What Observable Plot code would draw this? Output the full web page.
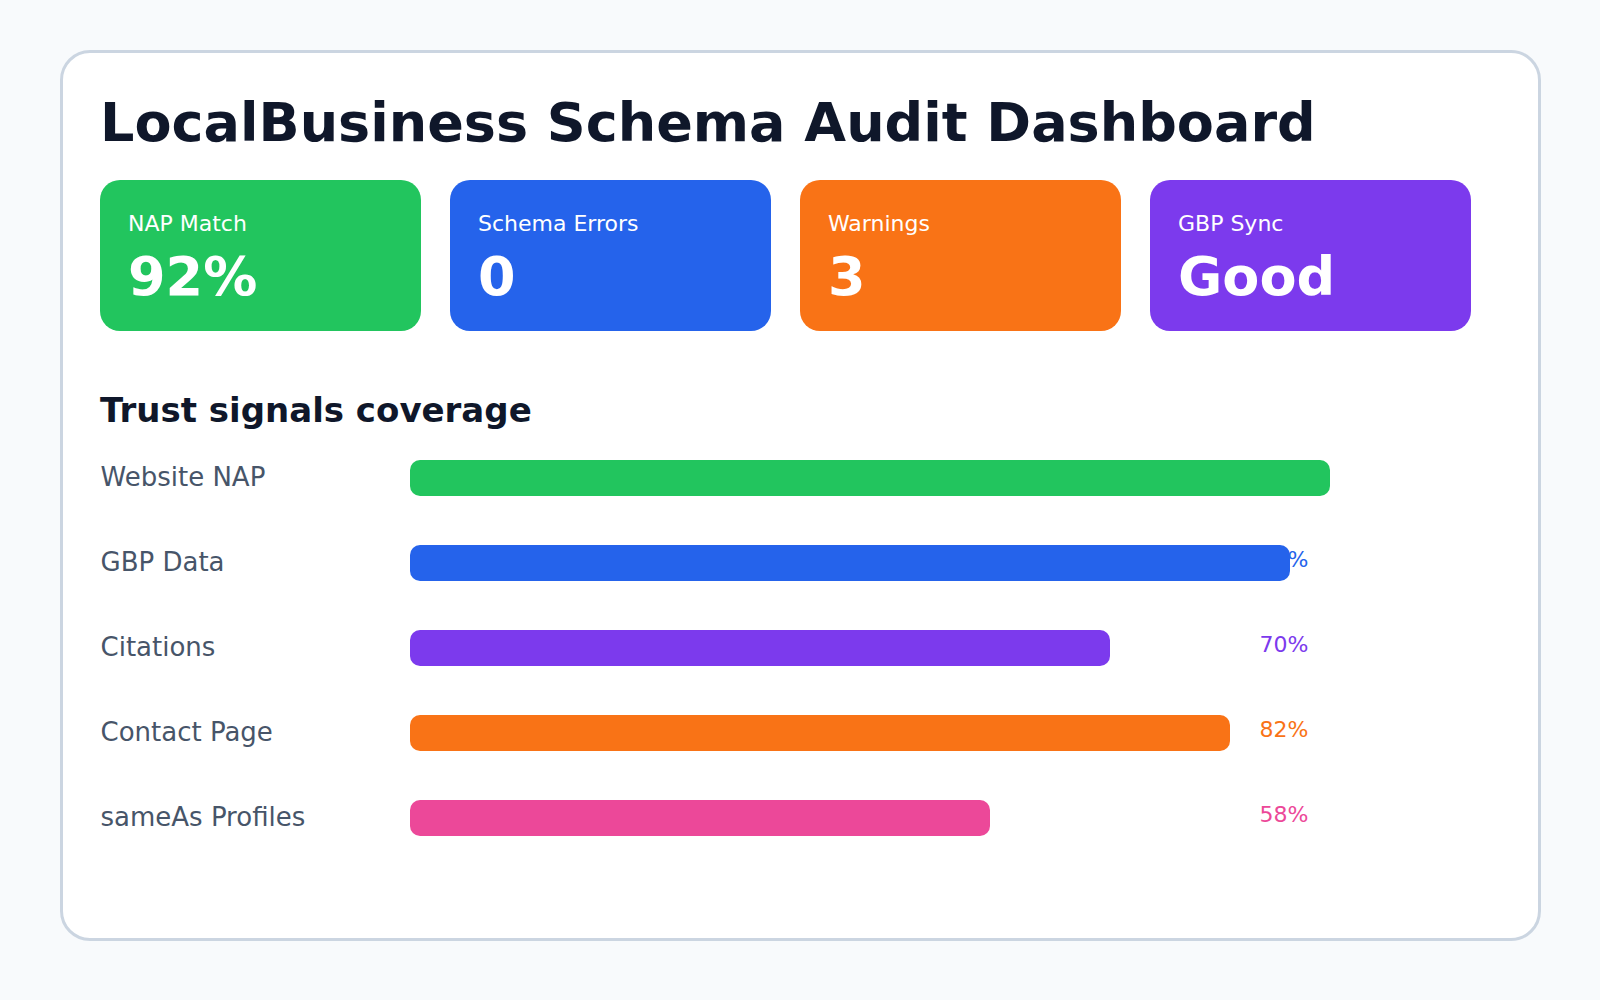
<!DOCTYPE html>
<html>
<head>
<meta charset="utf-8">
<script src="https://cdn.jsdelivr.net/npm/d3@7"></script>
<script src="https://cdn.jsdelivr.net/npm/@observablehq/plot@0.6"></script>
<style>
  html, body { margin: 0; padding: 0; }
  body { width: 1600px; height: 1000px; background: #f8fafc; font-family: "DejaVu Sans", sans-serif; position: relative; overflow: hidden; }
  #card { position: absolute; left: 60px; top: 50px; width: 1475px; height: 885px; background: #ffffff; border: 3px solid #cbd5e1; border-radius: 30px; }
  .abs { position: absolute; line-height: 1; white-space: nowrap; }
  #title { left: 100px; top: 96px; font-size: 54px; font-weight: bold; color: #0f172a; }
  #section { left: 100px; top: 393px; font-size: 34px; font-weight: bold; color: #0f172a; }
  .kpi { position: absolute; top: 180px; width: 321px; height: 151px; border-radius: 20px; color: #ffffff; }
  .kpi .lab { position: absolute; left: 28px; top: 33px; font-size: 22px; line-height: 1; white-space: nowrap; }
  .kpi .val { position: absolute; left: 28px; top: 70px; font-size: 54px; font-weight: bold; line-height: 1; white-space: nowrap; }
  #chart { position: absolute; left: 0; top: 440px; }
</style>
</head>
<body>
<div id="card"></div>
<div id="title" class="abs">LocalBusiness Schema Audit Dashboard</div>
<div id="kpis"></div>
<div id="section" class="abs">Trust signals coverage</div>
<div id="chart"></div>
<script>
// KPI cards
const kpiLabels = ["NAP Match", "Schema Errors", "Warnings", "GBP Sync"];
const kpiValues = ["92%", "0", "3", "Good"];
const kpiColors = ["#22c55e", "#2563eb", "#f97316", "#7c3aed"];

// Trust signals coverage
const signals = ["Website NAP", "GBP Data", "Citations", "Contact Page", "sameAs Profiles"];
const coverage = [92, 88, 70, 82, 58];
const signalColors = ["#22c55e", "#2563eb", "#7c3aed", "#f97316", "#ec4899"];

const kpiBox = document.getElementById("kpis");
kpiLabels.forEach((lab, i) => {
  const d = document.createElement("div");
  d.className = "kpi";
  d.style.left = (100 + i * 350) + "px";
  d.style.background = kpiColors[i];
  const l = document.createElement("div"); l.className = "lab"; l.textContent = lab;
  const v = document.createElement("div"); v.className = "val"; v.textContent = kpiValues[i];
  d.appendChild(l); d.appendChild(v);
  kpiBox.appendChild(d);
});

const data = signals.map((s, i) => ({signal: s, value: coverage[i], color: signalColors[i], label: coverage[i] + "%"}));

const chart = Plot.plot({
  width: 1600,
  height: 416,
  marginLeft: 410,
  marginRight: 190,
  marginTop: 20,
  marginBottom: 20,
  style: {background: "transparent", fontFamily: "DejaVu Sans, sans-serif", overflow: "visible"},
  x: {domain: [0, 100], axis: null},
  y: {domain: signals, paddingInner: 1 - 36 / 85, paddingOuter: 0, axis: null},
  marks: [
    Plot.text(data, {y: "signal", text: "label", frameAnchor: "right", textAnchor: "end", dx: -102, dy: -4, fontSize: 22, fill: "color"}),
    Plot.barX(data, {y: "signal", x: "value", fill: "color", rx: 10}),
    Plot.text(data, {y: "signal", text: "signal", frameAnchor: "left", textAnchor: "start", dx: -310, dy: -1, fontSize: 26, fill: "#475569"})
  ]
});
document.getElementById("chart").appendChild(chart);
</script>
</body>
</html>
